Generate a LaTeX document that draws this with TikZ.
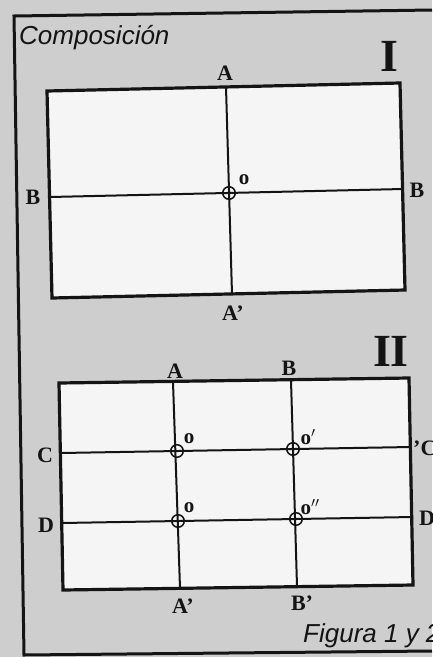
\documentclass[tikz,border=0pt]{standalone}
\usepackage{fontspec}
\setmainfont{Liberation Serif}
\newfontfamily\capfont{Liberation Sans}
\definecolor{paper}{RGB}{206,206,206}
\definecolor{sheet}{RGB}{245,245,245}
\definecolor{ink}{RGB}{20,20,20}
\begin{document}
\begin{tikzpicture}[x=1pt,y=-1pt,
  outerframe/.style={draw=ink, line width=3pt, line join=miter},
  boxframe/.style={draw=ink, fill=sheet, line width=3.2pt, line join=miter},
  gridline/.style={draw=ink, line width=2pt},
  ring/.style={draw=ink, line width=1.5pt, circle, minimum size=12.5pt, inner sep=0pt},
  lbl/.style={font=\fontsize{22}{22}\selectfont\bfseries, inner sep=0pt, text=ink},
  olbl/.style={font=\fontsize{21}{21}\selectfont\bfseries, inner sep=0pt, text=ink},
  roman/.style={font=\fontsize{46}{46}\selectfont\bfseries, inner sep=0pt, text=ink},
  caption/.style={font=\capfont\itshape\fontsize{26}{26}\selectfont, inner sep=0pt, text=ink}]
\fill[paper] (0,0) rectangle (432,657);
\useasboundingbox (0,0) rectangle (432,657);

% outer frame
\coordinate (ftr) at (432,10);
\coordinate (ftl) at (14,16);
\coordinate (fbl) at (24,655);
\coordinate (fbr) at (432,651);
\draw[outerframe] (ftr) -- (ftl) -- (fbl) -- (fbr);

\node[caption, anchor=base west] (title) at (19,44) {Composición};

% ---------- Figure I ----------
\coordinate (I1) at (47,91);
\coordinate (I2) at (400,83);
\coordinate (I3) at (405,290);
\coordinate (I4) at (52,298);
\draw[boxframe] (I1) -- (I2) -- (I3) -- (I4) -- cycle;
\coordinate (IAt) at (226,87);
\coordinate (IAb) at (232,294);
\coordinate (IBl) at (50,197);
\coordinate (IBr) at (403,189);
\draw[gridline] (IAt) -- (IAb);
\draw[gridline] (IBl) -- (IBr);
\node[ring] (IO) at (229,193) {};
\node[lbl] (IlA) at (225,73) {A};
\node[lbl] (IlAp) at (233,313) {A’};
\node[lbl] (IlBl) at (33,197) {B};
\node[lbl] (IlBr) at (417,190) {B};
\node[olbl] (IlO) at (244,180) {o};
\node[roman] (Inum) at (389,56) {I};

% ---------- Figure II ----------
\coordinate (II1) at (59,383);
\coordinate (II2) at (409,378);
\coordinate (II3) at (413,585);
\coordinate (II4) at (63,590);
\draw[boxframe] (II1) -- (II2) -- (II3) -- (II4) -- cycle;
\coordinate (IIAt) at (173,382);
\coordinate (IIAb) at (180,588);
\coordinate (IIBt) at (291,380);
\coordinate (IIBb) at (297,586);
\coordinate (IICl) at (61,453);
\coordinate (IICr) at (411,447);
\coordinate (IIDl) at (62,523);
\coordinate (IIDr) at (413,517);
\draw[gridline] (IIAt) -- (IIAb);
\draw[gridline] (IIBt) -- (IIBb);
\draw[gridline] (IICl) -- (IICr);
\draw[gridline] (IIDl) -- (IIDr);
\node[ring] (IIO1) at (177,451) {};
\node[ring] (IIO2) at (293,449) {};
\node[ring] (IIO3) at (178,521) {};
\node[ring] (IIO4) at (296,519) {};
\node[lbl] (IIlA) at (175,371) {A};
\node[lbl] (IIlB) at (289,368) {B};
\node[lbl] (IIlAp) at (183,606) {A’};
\node[lbl] (IIlBp) at (302,603) {B’};
\node[lbl] (IIlCl) at (45,455) {C};
\node[lbl, anchor=west] (IIlCr) at (413,448) {’C};
\node[lbl] (IIlDl) at (46,525) {D};
\node[lbl, anchor=west] (IIlDr) at (419,518) {D};
\node[olbl] (IIlo1) at (189,439) {o};
\node[olbl] (IIlo2) at (308,437) {o$^{\prime}$};
\node[olbl] (IIlo3) at (189,508) {o};
\node[olbl] (IIlo4) at (310,507) {o$^{\prime\prime}$};
\node[roman] (IInum) at (391,351) {II};

\node[caption, anchor=base west] (fig) at (303,642) {Figura 1 y 2};
\end{tikzpicture}
\end{document}
